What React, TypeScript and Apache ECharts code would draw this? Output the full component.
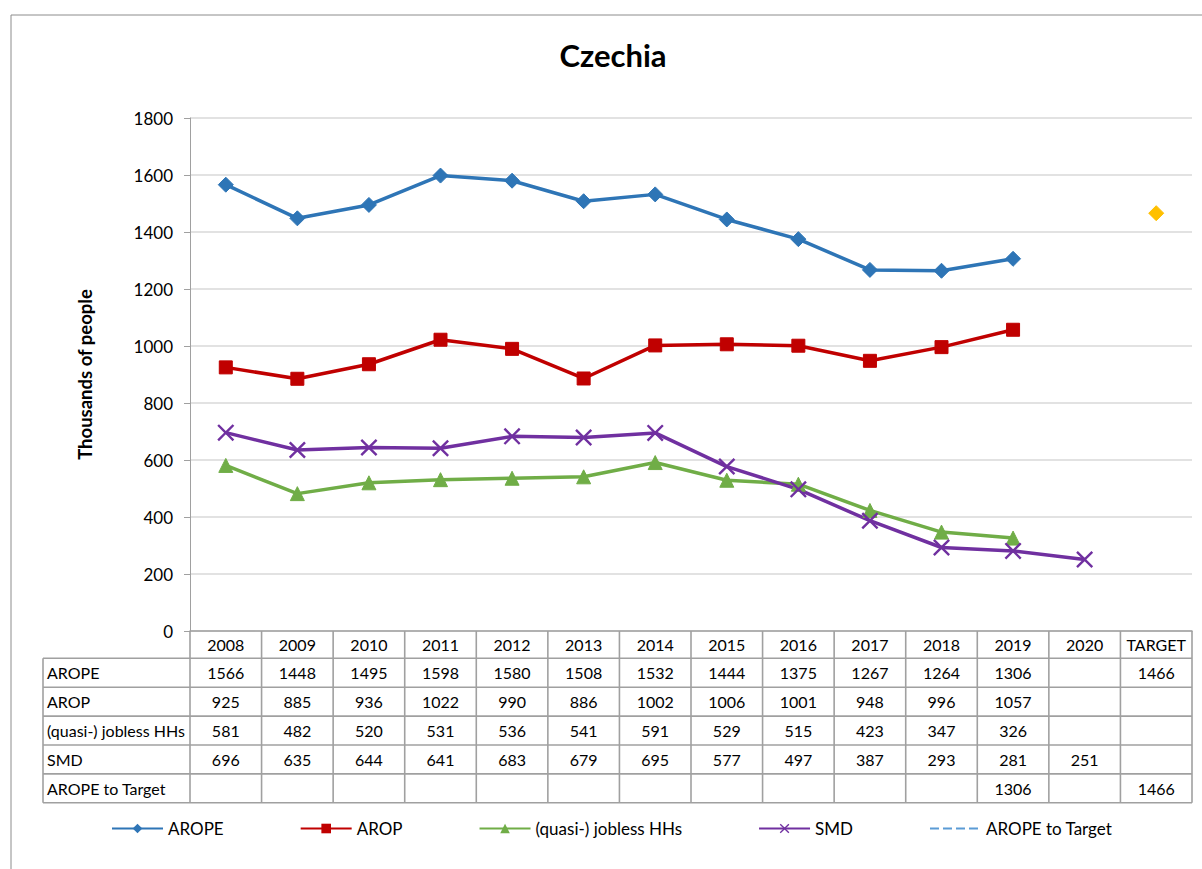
import React, { useEffect, useRef } from "react";
import * as echarts from "echarts";

const categories = ["2008", "2009", "2010", "2011", "2012", "2013", "2014", "2015", "2016", "2017", "2018", "2019", "2020", "TARGET"];
const seriesNames = ["AROPE", "AROP", "(quasi-) jobless HHs", "SMD", "AROPE to Target"];
const arope: (number | null)[] = [1566, 1448, 1495, 1598, 1580, 1508, 1532, 1444, 1375, 1267, 1264, 1306, null, 1466];
const arop: (number | null)[] = [925, 885, 936, 1022, 990, 886, 1002, 1006, 1001, 948, 996, 1057, null, null];
const jobless: (number | null)[] = [581, 482, 520, 531, 536, 541, 591, 529, 515, 423, 347, 326, null, null];
const smd: (number | null)[] = [696, 635, 644, 641, 683, 679, 695, 577, 497, 387, 293, 281, 251, null];
const aropeToTarget: (number | null)[] = [null, null, null, null, null, null, null, null, null, null, null, 1306, null, 1466];
const yMin = 0;
const yMax = 1800;
const yStep = 200;

const FONT = "Lato, 'Noto Sans', sans-serif";
const colors = ["#2E75B6", "#C00000", "#70AD47", "#7030A0", "#5B9BD5"];
const targetColor = "#FFC000";
const X_PATH = "path://M0,1 L1,0 L5,4 L9,0 L10,1 L6,5 L10,9 L9,10 L5,6 L1,10 L0,9 L4,5 Z";

export default function App() {
  const ref = useRef<HTMLDivElement>(null);
  useEffect(() => {
    if (!ref.current) return;
    const chart = echarts.init(ref.current, null, { renderer: "svg" });
    const gridLeft = 190;
    const gridRight = 10;
    const gridTop = 118;
    const gridBottom = 238;
    const lastIdx = categories.length - 1;
    const aropeData = arope.map((v, i) =>
      i === lastIdx && v != null ? { value: v, itemStyle: { color: targetColor, borderColor: targetColor } } : v
    );
    chart.setOption({
      animation: false,
      backgroundColor: "#ffffff",
      title: {
        text: "Czechia",
        left: 608,
        textAlign: "center",
        top: 34,
        textStyle: { fontFamily: FONT, fontSize: 31, fontWeight: "bold", color: "#000" },
      },
      grid: { left: gridLeft, right: gridRight, top: gridTop, bottom: gridBottom },
      xAxis: {
        type: "category",
        data: categories,
        boundaryGap: true,
        axisLine: { show: true, lineStyle: { color: "#A0A0A0", width: 1.5 } },
        axisTick: { show: false },
        axisLabel: { fontFamily: FONT, fontSize: 16, color: "#000", margin: 13, verticalAlign: "middle", interval: 0 },
      },
      yAxis: {
        type: "value",
        min: yMin,
        max: yMax,
        interval: yStep,
        name: "Thousands of people",
        nameLocation: "middle",
        nameGap: 96,
        nameTextStyle: { fontFamily: FONT, fontSize: 18.5, fontWeight: "bold", color: "#000" },
        axisLine: { show: true, lineStyle: { color: "#A0A0A0", width: 1 } },
        axisTick: { show: true, inside: false, length: 6, lineStyle: { color: "#A0A0A0" } },
        axisLabel: { fontFamily: FONT, fontSize: 17, color: "#000", margin: 17, formatter: (v: number) => String(v) },
        splitLine: { show: true, lineStyle: { color: "#D9D9D9", width: 1.5 } },
      },
      legend: {
        bottom: 27,
        left: 106,
        itemGap: 76,
        itemWidth: 51,
        itemHeight: 12,
        textStyle: { fontFamily: FONT, fontSize: 17, color: "#000" },
        data: seriesNames,
      },
      series: [
        {
          name: seriesNames[0],
          type: "line",
          data: aropeData,
          symbol: "diamond",
          symbolSize: 15,
          lineStyle: { color: colors[0], width: 3.5 },
          itemStyle: { color: colors[0], borderColor: colors[0] },
        },
        {
          name: seriesNames[1],
          type: "line",
          data: arop,
          symbol: "rect",
          symbolSize: 13,
          lineStyle: { color: colors[1], width: 3.5 },
          itemStyle: { color: colors[1], borderColor: colors[1] },
        },
        {
          name: seriesNames[2],
          type: "line",
          data: jobless,
          symbol: "triangle",
          symbolSize: 14,
          lineStyle: { color: colors[2], width: 3.5 },
          itemStyle: { color: colors[2], borderColor: colors[2] },
        },
        {
          name: seriesNames[3],
          type: "line",
          data: smd,
          symbol: X_PATH,
          symbolSize: 17,
          lineStyle: { color: colors[3], width: 3.5 },
          itemStyle: { color: colors[3], borderColor: colors[3], borderWidth: 0 },
        },
        {
          name: seriesNames[4],
          type: "line",
          data: aropeToTarget,
          symbol: "circle",
          showSymbol: false,
          lineStyle: { color: colors[4], width: 3.5, type: [9, 4] },
          itemStyle: { color: colors[4], opacity: 0 },
          z: 1,
        },
      ],
    });

    // Data table beneath the axis
    const rows = [arope, arop, jobless, smd, aropeToTarget];
    const axisY = chart.convertToPixel({ yAxisIndex: 0 }, yMin) as number;
    const c0 = chart.convertToPixel({ xAxisIndex: 0 }, 0) as number;
    const c1 = chart.convertToPixel({ xAxisIndex: 0 }, 1) as number;
    const colW = c1 - c0;
    const plotLeft = c0 - colW / 2;
    const plotRight = plotLeft + colW * categories.length;
    const tableLeft = 43;
    const headerBottom = axisY + 27.3;
    const rowH = 28.9;
    const tableBottom = headerBottom + rowH * rows.length;
    const lineStyle = { stroke: "#A0A0A0", lineWidth: 1.6 };
    const els: any[] = [];
    els.push({ type: "rect", shape: { x: 11, y: 15, width: 1200, height: 870 }, style: { fill: "none", stroke: "#8C8C8C", lineWidth: 1 }, silent: true });
    for (let i = 0; i <= categories.length; i++) {
      const x = plotLeft + colW * i;
      els.push({ type: "line", shape: { x1: x, y1: axisY, x2: x, y2: tableBottom }, style: lineStyle, silent: true });
    }
    els.push({ type: "line", shape: { x1: tableLeft, y1: headerBottom, x2: tableLeft, y2: tableBottom }, style: lineStyle, silent: true });
    for (let r = 0; r <= rows.length; r++) {
      const y = headerBottom + rowH * r;
      els.push({ type: "line", shape: { x1: tableLeft, y1: y, x2: plotRight, y2: y }, style: lineStyle, silent: true });
    }
    rows.forEach((vals, r) => {
      const cy = headerBottom + rowH * r + rowH / 2;
      els.push({
        type: "text",
        x: tableLeft + 4,
        y: cy,
        style: { text: seriesNames[r], fontFamily: FONT, fontSize: 16, fill: "#000", align: "left", verticalAlign: "middle" },
        silent: true,
      });
      vals.forEach((v, i) => {
        if (v == null) return;
        const cx = chart.convertToPixel({ xAxisIndex: 0 }, i) as number;
        els.push({
          type: "text",
          x: cx,
          y: cy,
          style: { text: String(v), fontFamily: FONT, fontSize: 16, fill: "#000", align: "center", verticalAlign: "middle" },
          silent: true,
        });
      });
    });
    chart.setOption({ graphic: els });
    return () => chart.dispose();
  }, []);
  return <div ref={ref} style={{ position: "absolute", left: 0, top: 0, width: 1202, height: 869 }} />;
}
